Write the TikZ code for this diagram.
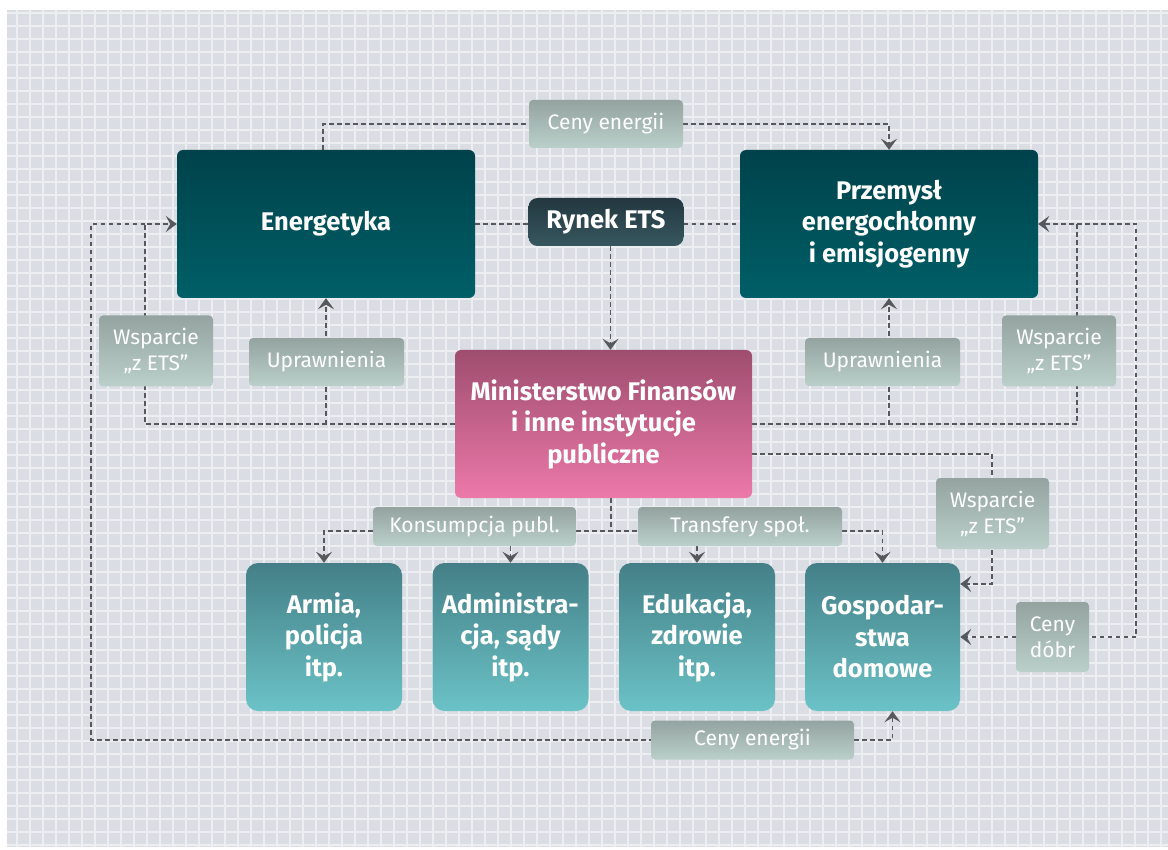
\documentclass[tikz,border=0pt]{standalone}
\usepackage{fontspec}
\setmainfont{Fira Sans}
\usetikzlibrary{arrows.meta}

\definecolor{bgcol}{HTML}{DADDE3}
\definecolor{gridcol}{HTML}{ECEEF1}
\definecolor{darktop}{HTML}{00424B}
\definecolor{darkbot}{HTML}{005F67}
\definecolor{ryntop}{HTML}{233740}
\definecolor{rynbot}{HTML}{37575F}
\definecolor{mintop}{HTML}{9E4D6F}
\definecolor{minbot}{HTML}{EC79A9}
\definecolor{celltop}{HTML}{447F87}
\definecolor{cellbot}{HTML}{6BC3C7}
\definecolor{lbltop}{HTML}{94A3A0}
\definecolor{lblbot}{HTML}{BBD0CA}
\definecolor{linkgray}{HTML}{55585C}

\pgfdeclarelayer{grid}
\pgfdeclarelayer{links}
\pgfsetlayers{grid,links,main}

\newcommand\boxfont{\bfseries\fontsize{25.5}{31.5}\selectfont}
\newcommand\lblfont{\fontsize{21}{26}\selectfont}

\begin{document}
\begin{tikzpicture}[x=1pt, y=-1pt,
    box/.style={rounded corners=6pt, minimum width=298pt, minimum height=148pt, inner sep=0pt,
        align=center, text=white, font=\boxfont, top color=darktop, bottom color=darkbot},
    cell/.style={box, rounded corners=12pt, minimum width=156pt, top color=celltop, bottom color=cellbot},
    lbl/.style={rounded corners=4pt, inner sep=0pt, align=center, text=white, font=\lblfont,
        top color=lbltop, bottom color=lblbot},
    link/.style={draw=linkgray, line width=1.9pt, dash pattern=on 4.5pt off 3.5pt},
    arrowed/.style={-{Stealth[length=11pt, width=16pt, inset=4.5pt]}}]

    \useasboundingbox (0,0) rectangle (1168,850);

    % grid paper
    \begin{pgfonlayer}{grid}
        \fill[white] (0,0) rectangle (1168,850);
        \fill[bgcol] (7,10) rectangle (1168,847);
        \foreach \x in {17,30,...,1165}
            \draw[gridcol, line width=1.5pt] (\x,10) -- (\x,847);
        \foreach \y in {13,26,...,845}
            \draw[gridcol, line width=1.5pt] (7,\y) -- (1168,\y);
    \end{pgfonlayer}

    % upper row
    \node at (326, 224) [box] (energ) {Energetyka};
    \node at (889, 224) [box] (przem) {Przemysł\\energochłonny\\i emisjogenny};
    \node at (606, 222) [box, rounded corners=9pt, minimum width=155pt, minimum height=48pt,
        top color=ryntop, bottom color=rynbot] (rynek) {Rynek ETS};
    \node at (606, 124) [lbl, minimum width=154pt, minimum height=48pt] (cenyT) {Ceny energii};

    % ministry
    \node at (603.5, 424) [box, minimum width=297pt, top color=mintop, bottom color=minbot] (minist)
        {Ministerstwo Finansów\\i inne instytucje\\publiczne};

    % allowances and support
    \node at (326.5, 362) [lbl, minimum width=155pt, minimum height=48pt] (uprL) {Uprawnienia};
    \node at (156, 351) [lbl, minimum width=114pt, minimum height=71pt] (wspL) {Wsparcie\\„z ETS”};
    \node at (882.5, 362) [lbl, minimum width=155pt, minimum height=48pt] (uprR) {Uprawnienia};
    \node at (1059, 351) [lbl, minimum width=114pt, minimum height=71pt] (wspR) {Wsparcie\\„z ETS”};
    \node at (992.5, 513.5) [lbl, minimum width=113pt, minimum height=71pt] (wspH) {Wsparcie\\„z ETS”};
    \node at (474.5, 526.5) [lbl, minimum width=203pt, minimum height=39pt] (konsum) {Konsumpcja publ.};
    \node at (740, 526.5) [lbl, minimum width=204pt, minimum height=39pt] (transf) {Transfery społ.};
    \node at (1052.5, 637) [lbl, minimum width=73pt, minimum height=70pt] (cenyD) {Ceny\\dóbr};
    \node at (752.5, 740) [lbl, minimum width=203pt, minimum height=39pt] (cenyB) {Ceny energii};

    % lower row
    \node at (324, 637) [cell] (armia) {Armia,\\policja\\itp.};
    \node at (510.5, 637) [cell] (admin) {Administra-\\cja, sądy\\itp.};
    \node at (697, 637) [cell] (eduk) {Edukacja,\\zdrowie\\itp.};
    \node at (882.5, 637) [cell, minimum width=155pt] (gosp) {Gospodar-\\stwa\\domowe};

    % bends
    \coordinate (wl) at (145, 224);
    \coordinate (fl) at (91, 740);
    \coordinate (wr) at (1077, 224);
    \coordinate (fr) at (1136, 637);
    \coordinate (wh) at (992, 454);
    \coordinate (wh2) at (992, 584);
    \coordinate (mb) at (611, 531);

    \begin{pgfonlayer}{links}
        % energy prices and ETS market
        \draw[link] ([xshift=-3pt]energ.north) |- (cenyT.west);
        \draw[link, arrowed] (cenyT.east) -| (przem.north);
        \draw[link] (energ.east) -- (energ.east -| rynek.west);
        \draw[link] (przem.west -| rynek.east) -- (przem.west);
        \draw[link, arrowed] ([xshift=4.5pt]rynek.south) -- ([xshift=4.5pt]rynek.south |- minist.north);

        % left side
        \draw[link, arrowed] (minist.west) -| (wl) -- (energ.west);
        \draw[link, arrowed] (energ.south |- minist.west) -- (energ.south);
        \draw[link] (wl) -| (fl) -- (cenyB.west);
        \draw[link, arrowed] (cenyB.east) -| ([xshift=10pt]gosp.south);

        % right side
        \draw[link, arrowed] (minist.east) -| (wr) -- (przem.east);
        \draw[link, arrowed] (przem.south |- minist.east) -- (przem.south);
        \draw[link, arrowed] (wr) -| (fr) -- (gosp.east);
        \draw[link, arrowed] (wh -| minist.east) -- (wh) -- (wh2) -- (wh2 -| gosp.east);

        % public spending
        \draw[link] (mb |- minist.south) -- (mb);
        \draw[link] (mb -| konsum.east) -- (mb -| transf.west);
        \draw[link, arrowed] (mb -| konsum.west) -| (armia.north);
        \draw[link, arrowed] (konsum.south -| admin.north) -- (admin.north);
        \draw[link, arrowed] (transf.south -| eduk.north) -- (eduk.north);
        \draw[link, arrowed] (mb -| transf.east) -| (gosp.north);
    \end{pgfonlayer}

\end{tikzpicture}
\end{document}
